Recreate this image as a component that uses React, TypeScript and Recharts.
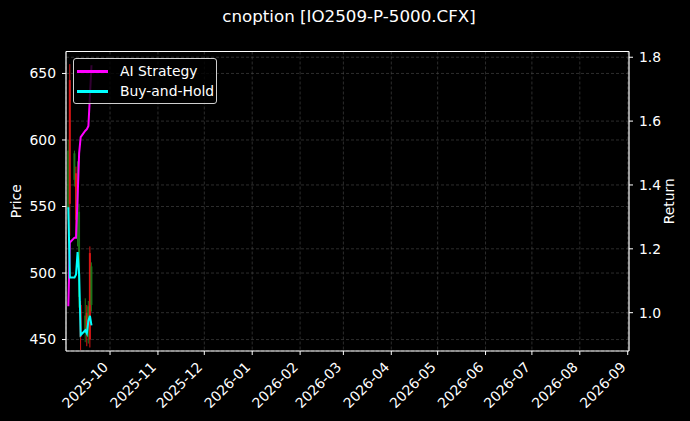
import { ComposedChart, Bar, Line, XAxis, YAxis, CartesianGrid, ReferenceLine } from "recharts";

// trading days shown on the chart
const dates = [
  "2025-09-04", "2025-09-05", "2025-09-08", "2025-09-09", "2025-09-10", "2025-09-11",
  "2025-09-12", "2025-09-15", "2025-09-16", "2025-09-17", "2025-09-18", "2025-09-19",
];
const opens = [548, 645, 570, 575, 540, 482, 476, 455, 470, 452, 515, 476];
const highs = [600, 657, 592, 580, 584, 552, 479, 481, 476, 479, 520, 508];
const lows = [540, 528, 565, 528, 520, 474, 442, 448, 445, 447, 444, 471];
const closes = [592, 552, 590, 540, 562, 546, 452, 468, 455, 475, 450, 505];
const aiStrategy = [1.02, 1.22, 1.235, 1.235, 1.36, 1.5, 1.55, 1.57, 1.575, 1.585, 1.68, 1.775];
const buyAndHold = [1.33, 1.11, 1.11, 1.12, 1.19, 1.12, 0.93, 0.945, 0.935, 0.975, 0.99, 0.96];
const monthTicks = [
  "2025-10-01", "2025-11-01", "2025-12-01", "2026-01-01", "2026-02-01", "2026-03-01",
  "2026-04-01", "2026-05-01", "2026-06-01", "2026-07-01", "2026-08-01", "2026-09-01",
];
const priceTicks = [450, 500, 550, 600, 650];
const returnTicks = [1.0, 1.2, 1.4, 1.6, 1.8];
const seriesNames = ["AI Strategy", "Buy-and-Hold"];
const seriesColors = ["#ff00ff", "#00ffff"];

const ts = (s: string) => Date.parse(s + "T00:00:00Z");

const data = dates.map((d, i) => ({
  t: ts(d),
  open: opens[i],
  high: highs[i],
  low: lows[i],
  close: closes[i],
  ai: aiStrategy[i],
  bh: buyAndHold[i],
}));

const xDomain = [ts("2025-09-02") + 12 * 3600e3, ts("2026-09-01") + 20 * 3600e3];
const FONT = "'DejaVu Sans', sans-serif";
const FS = 13.9;

function Candle(props: any) {
  const { x, y, width, height, payload } = props;
  if (height == null) return null;
  const { open, high, low, close } = payload;
  const cx = x + width / 2;
  const k = height / (high - low || 1);
  const yo = y + (high - open) * k;
  const yc = y + (high - close) * k;
  const color = close >= open ? "#1f8a1f" : "#ff1a1a";
  return (
    <g opacity={0.85}>
      <line x1={cx} x2={cx} y1={y} y2={y + height} stroke={color} strokeWidth={1} />
      <rect x={cx - 1} y={Math.min(yo, yc)} width={2} height={Math.max(Math.abs(yc - yo), 1)} fill={color} />
    </g>
  );
}

function DateTick(props: any) {
  const { x, y, payload } = props;
  const d = new Date(payload.value);
  const label = `${d.getUTCFullYear()}-${String(d.getUTCMonth() + 1).padStart(2, "0")}`;
  const px = x - 1;
  const py = y + 11;
  return (
    <text x={px} y={py} transform={`rotate(-45 ${px} ${py})`} textAnchor="end" fill="#fff" fontSize={FS} fontFamily={FONT}>
      {label}
    </text>
  );
}

function AxisTitle(props: any) {
  const { viewBox, value, dx } = props;
  const cx = viewBox.x + dx;
  const cy = viewBox.y + viewBox.height / 2;
  return (
    <text x={cx} y={cy} transform={`rotate(-90 ${cx} ${cy})`} textAnchor="middle" dominantBaseline="central" fill="#fff" fontSize={FS} fontFamily={FONT}>
      {value}
    </text>
  );
}

function LegendBox() {
  return (
    <div
      style={{
        position: "absolute",
        left: 73,
        top: 58,
        width: 142,
        height: 44,
        border: "1px solid #cfcfcf",
        borderRadius: 3,
        background: "rgba(0,0,0,0.8)",
        fontFamily: FONT,
        fontSize: FS,
        color: "#fff",
      }}
    >
      {seriesNames.map((name, i) => (
        <div key={name} style={{ position: "absolute", left: 3, top: 3 + i * 20, height: 19, display: "flex", alignItems: "center" }}>
          <span style={{ display: "inline-block", width: 31, height: 2.5, background: seriesColors[i], marginRight: 12 }} />
          <span style={{ lineHeight: "19px" }}>{name}</span>
        </div>
      ))}
    </div>
  );
}

export default function App() {
  return (
    <div style={{ position: "absolute", left: 0, top: 0, width: 690, height: 421, background: "#000", overflow: "hidden" }}>
      <div
        style={{
          position: "absolute",
          left: 0,
          width: 690,
          top: 6,
          textAlign: "center",
          fontFamily: FONT,
          fontSize: 16.7,
          color: "#fff",
          paddingLeft: 4,
        }}
      >
        cnoption [IO2509-P-5000.CFX]
      </div>
      <ComposedChart
        width={690}
        height={421}
        data={data}
        margin={{ top: 51.5, right: 0, bottom: 0, left: 0 }}
        style={{ position: "absolute", left: 0, top: 0 }}
      >
        <CartesianGrid yAxisId="left" stroke="#4a4a4a" strokeDasharray="3 2" strokeWidth={0.6} />
        <CartesianGrid yAxisId="right" vertical={false} stroke="#4a4a4a" strokeDasharray="3 2" strokeWidth={0.6} />
        <XAxis
          dataKey="t"
          type="number"
          scale="time"
          domain={xDomain}
          allowDataOverflow
          ticks={monthTicks.map(ts)}
          tick={<DateTick />}
          tickLine={{ stroke: "#fff" }}
          axisLine={{ stroke: "#fff", strokeWidth: 1.2 }}
          tickSize={4}
          height={70}
          interval={0}
        />
        <YAxis
          yAxisId="left"
          domain={[441.4, 666.5]}
          allowDataOverflow
          ticks={priceTicks}
          width={66}
          tickSize={4}
          tickMargin={6}
          tick={{ fill: "#fff", fontSize: FS, fontFamily: FONT }}
          tickLine={{ stroke: "#fff" }}
          axisLine={{ stroke: "#fff", strokeWidth: 1.2 }}
          label={<AxisTitle value="Price" dx={16} />}
        />
        <YAxis
          yAxisId="right"
          orientation="right"
          domain={[0.88, 1.818]}
          allowDataOverflow
          ticks={returnTicks}
          width={61}
          tickSize={4}
          tickMargin={6}
          tickFormatter={(v: number) => v.toFixed(1)}
          tick={{ fill: "#fff", fontSize: FS, fontFamily: FONT }}
          tickLine={{ stroke: "#fff" }}
          axisLine={{ stroke: "#fff", strokeWidth: 1.2 }}
          label={<AxisTitle value="Return" dx={40} />}
        />
        <ReferenceLine yAxisId="left" y={666.5} stroke="#fff" strokeWidth={1.2} />
        <Bar
          yAxisId="left"
          dataKey={(d: any) => [d.low, d.high]}
          barSize={2}
          shape={<Candle />}
          isAnimationActive={false}
          legendType="none"
        />
        <Line yAxisId="right" dataKey="ai" name={seriesNames[0]} stroke={seriesColors[0]} strokeWidth={2} dot={false} isAnimationActive={false} />
        <Line yAxisId="right" dataKey="bh" name={seriesNames[1]} stroke={seriesColors[1]} strokeWidth={2} dot={false} isAnimationActive={false} />
      </ComposedChart>
      <LegendBox />
    </div>
  );
}
